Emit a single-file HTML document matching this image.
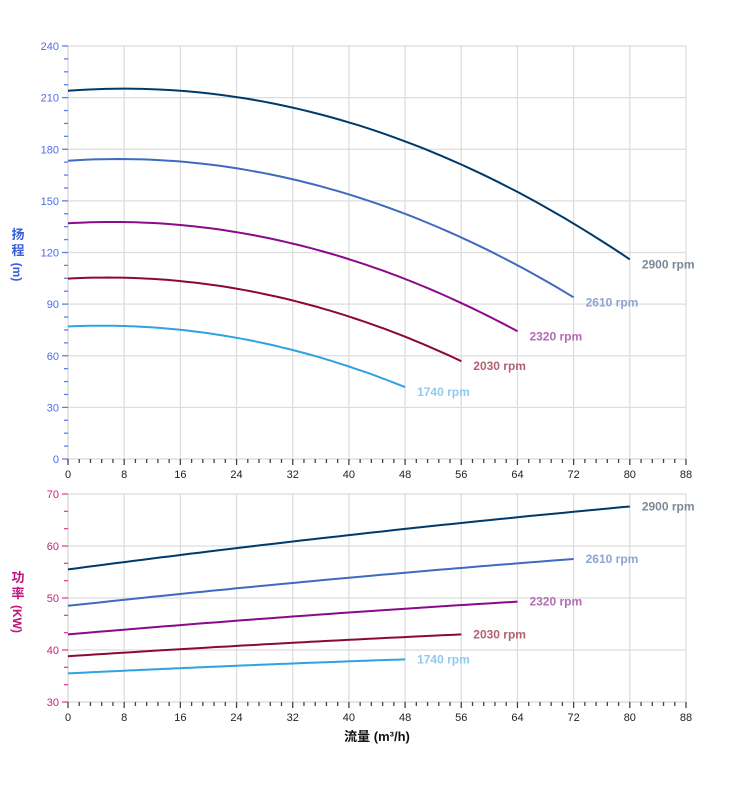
<!DOCTYPE html>
<html><head><meta charset="utf-8"><style>
body{margin:0;background:#fff;width:752px;height:797px;overflow:hidden}
svg text{font-family:"Liberation Sans","Noto Sans CJK SC",sans-serif}
</style></head><body>
<svg id="s" width="752" height="797" xmlns="http://www.w3.org/2000/svg"></svg>
<script>
const s=document.getElementById('s');let h='';
const X=q=>68+q*618/88, YT=v=>459-v*413/240, YB=v=>702-(v-30)*208/40;
for(let q=8;q<=88;q+=8){h+=`<line x1="${X(q)}" y1="46" x2="${X(q)}" y2="459" stroke="#ddd" stroke-width="1.3"/><line x1="${X(q)}" y1="494" x2="${X(q)}" y2="702" stroke="#ddd" stroke-width="1.3"/>`;}
for(let v=30;v<=240;v+=30)h+=`<line x1="68" y1="${YT(v)}" x2="686" y2="${YT(v)}" stroke="#ddd" stroke-width="1.3"/>`;
for(let v=40;v<=70;v+=10)h+=`<line x1="68" y1="${YB(v)}" x2="686" y2="${YB(v)}" stroke="#ddd" stroke-width="1.3"/>`;
h+=`<line x1="68" y1="46" x2="68" y2="459" stroke="#ccc"/><line x1="68" y1="459" x2="686" y2="459" stroke="#ccc"/>`;
h+=`<line x1="68" y1="494" x2="68" y2="702" stroke="#ccc"/><line x1="68" y1="702" x2="686" y2="702" stroke="#ccc"/>`;
for(let i=0;i<=32;i++){let v=i*7.5,y=YT(v),maj=i%4==0;h+=`<line x1="${maj?62:64}" y1="${y}" x2="68" y2="${y}" stroke="#5b7ef0" stroke-width="1.3"/>`;if(maj)h+=`<text x="59" y="${y+4}" font-size="11" fill="#4a6ee8" text-anchor="end">${v}</text>`;}
for(let i=0;i<=12;i++){let v=30+i*10/3,y=YB(v),maj=i%3==0;h+=`<line x1="${maj?62:64}" y1="${y}" x2="68" y2="${y}" stroke="#e0409a" stroke-width="1.3"/>`;if(maj)h+=`<text x="59" y="${y+4}" font-size="11" fill="#d0207f" text-anchor="end">${Math.round(v)}</text>`;}
for(let i=0;i<=55;i++){let q=i*1.6,x=X(q),maj=i%5==0;[459,702].forEach(b=>{h+=`<line x1="${x}" y1="${b}" x2="${x}" y2="${b+(maj?6:4)}" stroke="#444" stroke-width="1.3"/>`;if(maj)h+=`<text x="${x}" y="${b+19}" font-size="11" fill="#222" text-anchor="middle">${Math.round(q)}</text>`;});}
h+=`<text x="18" y="239" font-size="13" fill="#3a5ed8" font-weight="bold" text-anchor="middle">扬</text><text x="18" y="255" font-size="13" fill="#3a5ed8" font-weight="bold" text-anchor="middle">程</text><text transform="translate(13,272) rotate(90)" font-size="12" fill="#3a5ed8" font-weight="bold" text-anchor="middle">(m)</text>`;
h+=`<text x="18" y="582" font-size="13" fill="#c0147a" font-weight="bold" text-anchor="middle">功</text><text x="18" y="598" font-size="13" fill="#c0147a" font-weight="bold" text-anchor="middle">率</text><text transform="translate(13,619) rotate(90)" font-size="12" fill="#c0147a" font-weight="bold" text-anchor="middle">(KW)</text>`;
h+=`<text x="377" y="741" font-size="13" fill="#111" font-weight="bold" text-anchor="middle">流量 (m³/h)</text>`;
const S=[[2900,'#003a6b','#7b8a99',55.5,67.6],[2610,'#3e6bbf','#8fa3d2',48.5,57.5],[2320,'#8b0a8b','#b46cb4',43,49.3],[2030,'#8b0a2e','#b26272',38.8,43],[1740,'#2fa2e0','#92c9ef',35.5,38.2]];
S.forEach(([n,c,lc,p0,p1])=>{const r=n/2900,qm=80*r;let a='',b='';
for(let i=0;i<=60;i++){const q=qm*i/60;const H=214*r*r+0.306*r*q-0.01914*q*q;a+=(i?'L':'M')+X(q).toFixed(1)+' '+YT(H).toFixed(1);
const t=i/60;const P=p0+(p1-p0)*(t+0.18*t*(1-t));b+=(i?'L':'M')+X(q).toFixed(1)+' '+YB(P).toFixed(1);}
h+=`<path d="${a}" fill="none" stroke="${c}" stroke-width="2"/><path d="${b}" fill="none" stroke="${c}" stroke-width="2"/>`;
const He=214*r*r+0.306*r*qm-0.01914*qm*qm;
h+=`<text x="${X(qm)+12}" y="${YT(He)+9}" font-size="12" font-weight="bold" fill="${lc}">${n} rpm</text>`;
h+=`<text x="${X(qm)+12}" y="${YB(p1)+4}" font-size="12" font-weight="bold" fill="${lc}">${n} rpm</text>`;});
s.innerHTML=h;
</script>
</body></html>
